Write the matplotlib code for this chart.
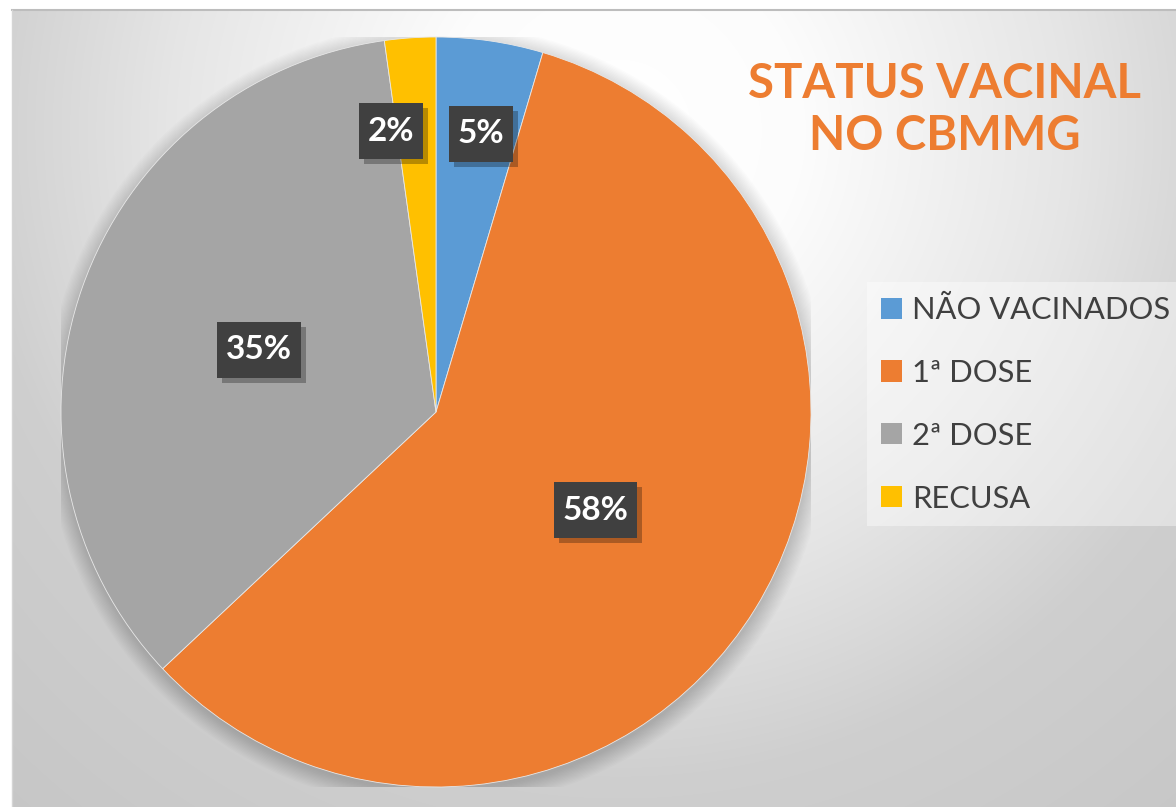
import numpy as np
import matplotlib
matplotlib.use('Agg')
import matplotlib.pyplot as plt
from matplotlib.transforms import IdentityTransform
from matplotlib.patches import Patch, Circle, Rectangle

# Données
categories = ['NÃO VACINADOS', '1ª DOSE', '2ª DOSE', 'RECUSA']
valeurs = [4.6, 58.4, 34.8, 2.2]
couleurs = ['#5B9BD5', '#ED7D31', '#A5A5A5', '#FFC000']
titre = 'STATUS VACINAL\nNO CBMMG'

plt.rcParams['font.family'] = ['Lato', 'DejaVu Sans']
plt.rcParams['hatch.color'] = '#555555'
plt.rcParams['hatch.linewidth'] = 1.5

W, H = 1176, 807
fig = plt.figure(figsize=(W / 100, H / 100), dpi=100)
fig.patch.set_facecolor('white')

# Fond en dégradé radial
bg = fig.add_axes([12 / W, 0, 1 - 12 / W, 1 - 10 / H])
xx, yy = np.meshgrid(np.arange(12, W), np.arange(10, H))
d = np.hypot(xx - 620, yy - 130)
val = np.interp(d, [0, 180, 450, 650, 900], [1.0, 0.99, 0.90, 0.81, 0.78])
bg.imshow(np.dstack([val, val, val]), extent=[12, W, H, 10], aspect='auto')
bg.set_xlim(12, W)
bg.set_ylim(H, 10)
bg.axis('off')
fig.add_artist(plt.Line2D([12 / W, 1], [1 - 10 / H, 1 - 10 / H], color='#bdbdbd', lw=1.5))
fig.add_artist(plt.Line2D([12 / W, 12 / W], [0, 1 - 10 / H], color='#d5d5d5', lw=1))

# Camembert
cx, cy, r = 436, 412, 375
ax = fig.add_axes([(cx - r) / W, (H - cy - r) / H, 2 * r / W, 2 * r / H])
ax.set_facecolor('none')

# ombre douce autour du disque
for k in range(14):
    ax.add_patch(Circle((0.003, -0.01), 1 + 0.0035 * k, color='black', alpha=0.013, lw=0, zorder=0))

wedges, textes, pcts = ax.pie(valeurs, colors=couleurs, startangle=90, counterclock=False,
                              autopct='%.0f%%', pctdistance=0.5, radius=1,
                              wedgeprops=dict(edgecolor='#e8e8e8', linewidth=0.6),
                              textprops=dict(color='white', fontsize=24, fontweight='bold'))
ax.set_xlim(-1, 1)
ax.set_ylim(-1, 1)
ax.axis('off')

for w, t, v in zip(wedges, pcts, valeurs):
    ang = np.deg2rad((w.theta1 + w.theta2) / 2)
    if v < 10:
        x, y = 0.75 * np.cos(ang), 0.75 * np.sin(ang)
        x = np.sign(x) * max(abs(x), 0.12)
        t.set_position((x, y))
    t.set_zorder(10)
    t.set_bbox(dict(boxstyle='square,pad=0.27', facecolor='#404040', edgecolor='#404040',
                    linewidth=0, hatch='..', mutation_aspect=1.5))

# ombres des étiquettes (rectangles décalés, sous le texte)
fig.canvas.draw()
for t in pcts:
    bb = t.get_bbox_patch().get_window_extent()
    ombre = Rectangle((bb.x0 + 5, bb.y0 - 5), bb.width, bb.height, transform=IdentityTransform(),
                      facecolor='black', alpha=0.28, linewidth=0, zorder=9)
    ax.add_patch(ombre)

# Titre
fig.text(945 / W, 1 - 110 / H, titre, ha='center', va='center', color='#ED7D31',
         fontsize=34, fontweight='bold', linespacing=1.25)

# Légende
poignees = [Patch(facecolor=c, edgecolor='none') for c in couleurs]
leg = fig.legend(poignees, categories, loc='upper left', bbox_to_anchor=(867 / W, 1 - 282 / H),
                 fontsize=22.2, frameon=True, fancybox=False, handlelength=0.68, handleheight=0.68,
                 handletextpad=0.33, labelspacing=1.13, borderpad=0.45, borderaxespad=0,
                 labelcolor='#404040')
leg.get_frame().set_facecolor('white')
leg.get_frame().set_alpha(0.4)
leg.get_frame().set_linewidth(0)

fig.savefig('out.png', dpi=100)
